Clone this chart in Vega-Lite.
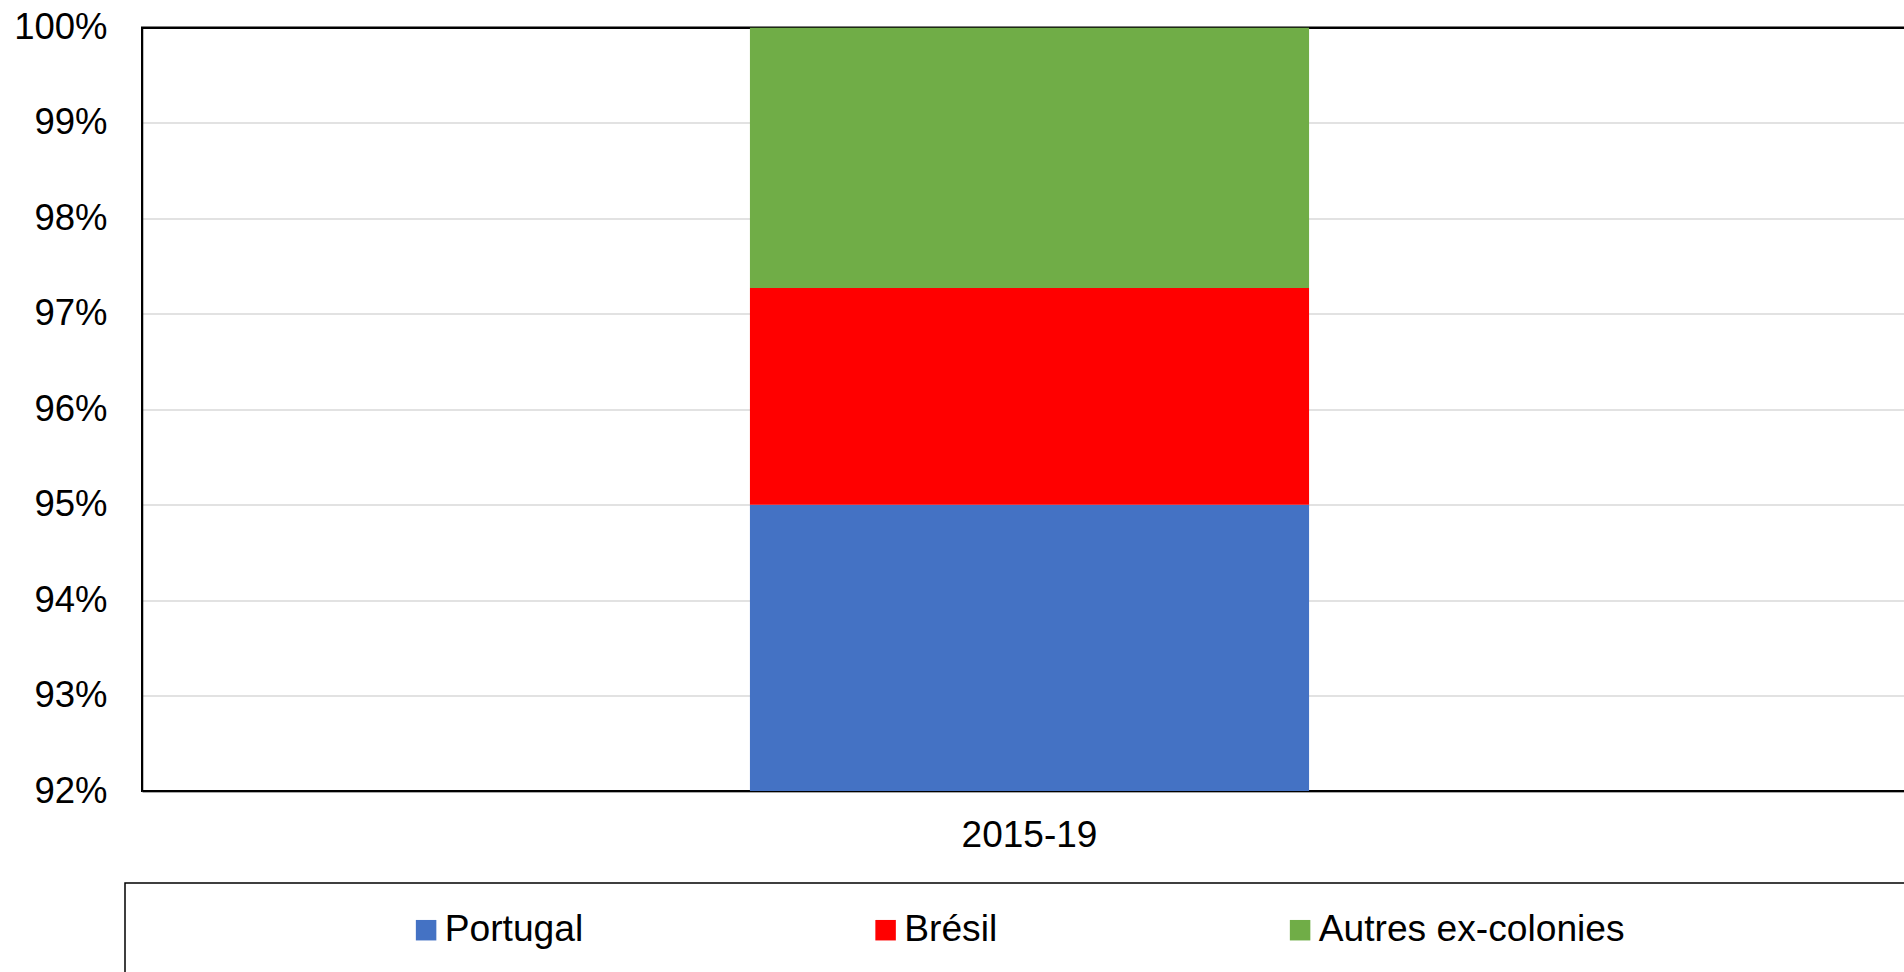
{
  "$schema": "https://vega.github.io/schema/vega-lite/v6.json",
  "autosize": {"type": "none"},
  "padding": {"left": 142, "top": 27.5, "right": -13, "bottom": 181},
  "width": 1775,
  "height": 763.5,
  "background": "white",
  "data": {
    "values": [
      {"period": "2015-19", "region": "Portugal", "share": 0.9500},
      {"period": "2015-19", "region": "Brésil", "share": 0.0227},
      {"period": "2015-19", "region": "Autres ex-colonies", "share": 0.0273}
    ]
  },
  "mark": {"type": "bar", "clip": true, "width": {"band": 0.315}},
  "encoding": {
    "x": {
      "field": "period",
      "type": "nominal",
      "scale": {"paddingInner": 0, "paddingOuter": 0},
      "axis": {
        "title": null,
        "labelAngle": 0,
        "ticks": false,
        "labelPadding": 26,
        "labelFontSize": 37,
        "grid": false
      }
    },
    "y": {
      "field": "share",
      "type": "quantitative",
      "stack": "zero",
      "scale": {"domain": [0.92, 1], "nice": false, "zero": false},
      "axis": {
        "title": null,
        "format": ".0%",
        "values": [0.92, 0.93, 0.94, 0.95, 0.96, 0.97, 0.98, 0.99, 1.0],
        "ticks": false,
        "labelPadding": 35,
        "labelFontSize": 36.5,
        "grid": true,
        "gridColor": {"condition": {"test": "datum.value >= 0.9999", "value": "black"}, "value": "#d9d9d9"},
        "gridWidth": {"condition": {"test": "datum.value >= 0.9999", "value": 2}, "value": 1.5}
      }
    },
    "color": {
      "field": "region",
      "type": "nominal",
      "sort": ["Portugal", "Brésil", "Autres ex-colonies"],
      "scale": {
        "domain": ["Portugal", "Brésil", "Autres ex-colonies", "\u00a0"],
        "range": ["#4472C4", "#FF0000", "#70AD47", "white"]
      },
      "legend": {
        "orient": "none",
        "legendX": -17,
        "legendY": 855.5,
        "direction": "horizontal",
        "title": " ",
        "titleOrient": "left",
        "titleFontSize": 37,
        "titlePadding": 254,
        "padding": 28.5,
        "strokeColor": "black",
        "symbolType": "square",
        "symbolSize": 420,
        "symbolStrokeWidth": 0,
        "symbolOpacity": 1,
        "labelFontSize": 37.2,
        "labelColor": "black",
        "labelOffset": 0,
        "columnPadding": 283.5,
        "labelLimit": 3000,
        "encode": {"legend": {"update": {"strokeWidth": {"value": 1.5}}}}
      }
    }
  },
  "config": {
    "font": "Liberation Sans",
    "view": {"stroke": "black", "strokeWidth": 2},
    "axis": {
      "domainColor": "black",
      "domainWidth": 1.5,
      "labelColor": "black",
      "labelFont": "Liberation Sans"
    },
    "legend": {"labelFont": "Liberation Sans", "titleFont": "Liberation Sans"}
  }
}
